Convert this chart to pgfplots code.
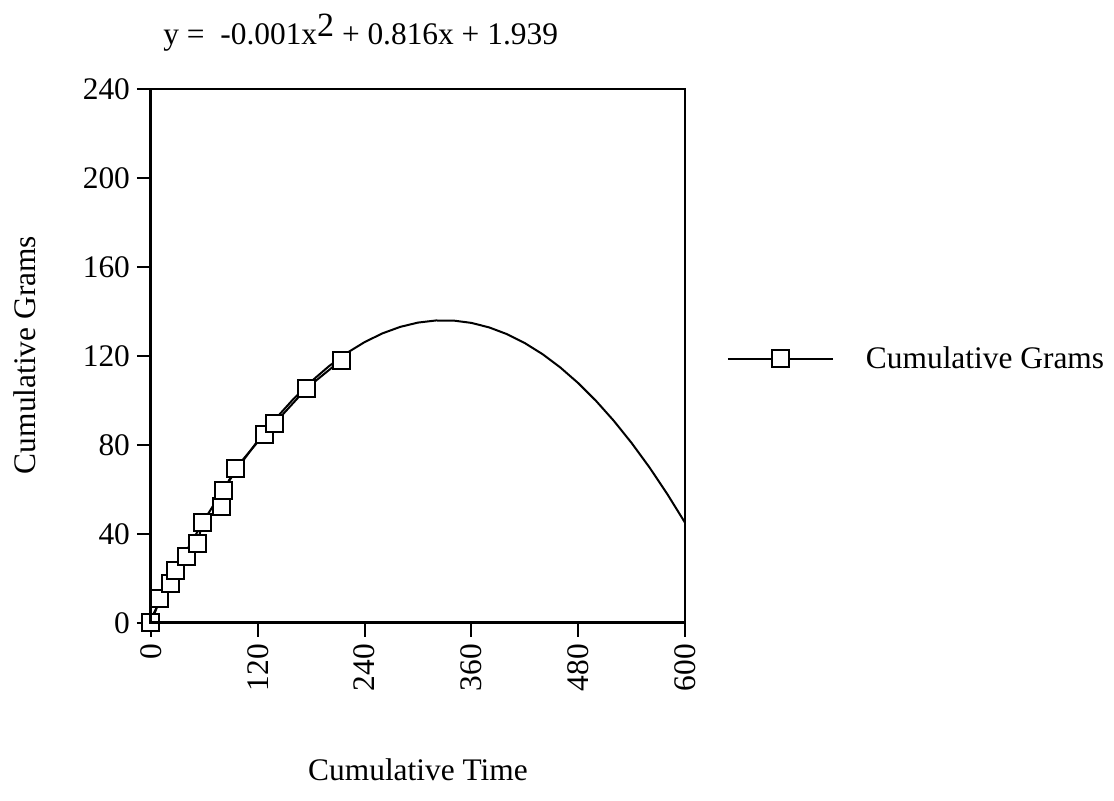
\documentclass[border=0pt]{standalone}
\usepackage{fontspec}
\setmainfont{Liberation Serif}
\usepackage{pgfplots}
\pgfplotsset{compat=1.18}
\begin{document}
\begin{tikzpicture}[font=\fontsize{15.7}{19}\selectfont]
\useasboundingbox (0,0) rectangle (557pt,400.5pt);
\begin{axis}[
  at={(75.5pt,89pt)}, anchor=south west,
  scale only axis, width=267pt, height=266.75pt,
  xmin=0, xmax=600, ymin=0, ymax=240,
  xtick={0,120,240,360,480,600},
  ytick={0,40,80,120,160,200,240},
  tick align=outside, tick pos=left,
  major tick length=7pt,
  tick style={line width=1pt, black},
  axis line style={line width=1pt},
  xticklabel style={rotate=90, anchor=east},
  /pgf/number format/assume math mode=true,
  /pgf/number format/1000 sep={},
  clip=false,
  legend style={at={(axis description cs:1,0.495)}, anchor=west, xshift=21pt,
    draw=none, fill=none, inner sep=0pt, outer sep=0pt,
    nodes={inner sep=0pt},
    /tikz/every odd column/.append style={column sep=16pt}},
  legend image code/.code={\draw[mark repeat=2,mark phase=2,#1] plot coordinates {(0pt,0pt) (26.25pt,0pt) (52.5pt,0pt)};},
  after end axis/.code={\draw[line width=1.5pt] (rel axis cs:0,1) -- (rel axis cs:0,0) -- (rel axis cs:1,0);},
]
% fitted trend line (tabulated)
\addplot[black, line width=1pt, forget plot] coordinates {
(0,1.94) (20,17.76) (40,32.60) (60,46.44) (80,59.28) (100,71.14) (120,82.00)
(140,91.88) (160,100.76) (180,108.64) (200,115.54) (220,121.44) (240,126.36)
(260,130.28) (280,133.20) (300,135.14) (320,136.08) (340,136.04) (360,135.00)
(380,132.96) (400,129.94) (420,125.92) (440,120.92) (460,114.92) (480,107.92)
(500,99.94) (520,90.96) (540,80.99) (560,70.04) (580,58.08) (600,45.14)
};
% data
\addplot[black, line width=1pt, mark=square*, mark size=4.25pt,
  mark options={fill=white, line width=1pt, solid}] coordinates {
(0,0) (10.1,10.8) (22.1,17.9) (27.7,23.8) (40.1,29.8) (52.0,35.9) (58.1,45.3)
(79.4,52.6) (82.0,59.8) (94.4,69.3) (127.3,84.9) (139.0,89.8) (174.9,105.6) (213.8,118.3)
};
\addlegendentry{Cumulative Grams}
\end{axis}
\node[anchor=west, inner sep=0pt] at (81.5pt,384pt) {y = \ -0.001x\raisebox{4pt}{\fontsize{17}{19}\selectfont 2} + 0.816x + 1.939};
\node[rotate=90] at (12.5pt,223pt) {Cumulative Grams};
\node at (209pt,15.5pt) {Cumulative Time};
\end{tikzpicture}
\end{document}
